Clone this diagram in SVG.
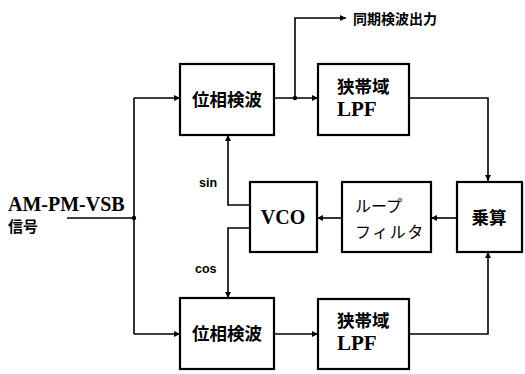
<svg xmlns="http://www.w3.org/2000/svg" width="525" height="374" viewBox="0 0 525 374">
<style>
.box{fill:#fff;stroke:#000;stroke-width:2.2}
.ln{fill:none;stroke:#000;stroke-width:1.6}
.jp{font-family:"Noto Sans CJK JP","Noto Sans CJK SC",sans-serif;font-weight:bold;fill:#000}
.jpn{font-family:"Noto Sans CJK JP","Noto Sans CJK SC",sans-serif;font-weight:normal;fill:#000}
.lat{font-family:"Liberation Serif","Times New Roman",serif;font-weight:bold;fill:#000}
.sm{font-family:"Liberation Sans",Arial,sans-serif;font-weight:bold;fill:#000}
</style>
<defs>
<marker id="ar" viewBox="0 0 10 10" refX="10" refY="5" markerWidth="7" markerHeight="6" orient="auto" markerUnits="userSpaceOnUse">
<path d="M0,0L10,5L0,10z" fill="#000"/>
</marker>
</defs>
<g id="connectors">
<path class="ln" d="M67,218H134"/>
<path class="ln" d="M134,98V334"/>
<path class="ln" d="M134,98H180" marker-end="url(#ar)"/>
<path class="ln" d="M134,334H180" marker-end="url(#ar)"/>
<path class="ln" d="M274,98H318" marker-end="url(#ar)"/>
<path class="ln" d="M295,98V18H346" marker-end="url(#ar)"/>
<path class="ln" d="M409,98H488V181" marker-end="url(#ar)"/>
<path class="ln" d="M274,334H318" marker-end="url(#ar)"/>
<path class="ln" d="M409,334H488V252" marker-end="url(#ar)"/>
<path class="ln" d="M457,218H431" marker-end="url(#ar)"/>
<path class="ln" d="M342,218H317" marker-end="url(#ar)"/>
<path class="ln" d="M250,205H228V135" marker-end="url(#ar)"/>
<path class="ln" d="M250,228H228V298" marker-end="url(#ar)"/>
<circle cx="134" cy="218" r="2.2" fill="#000"/>
<circle cx="295" cy="98" r="2.2" fill="#000"/>
</g>
<g id="pd_top">
<rect class="box" x="180" y="64" width="94" height="71"/>
<text class="jp" x="227" y="106" font-size="17.5" text-anchor="middle">位相検波</text>
</g>
<g id="lpf_top">
<rect class="box" x="318" y="64" width="91" height="71"/>
<text class="jp" x="337" y="93" font-size="17.5">狭帯域</text>
<text class="lat" x="337" y="116" font-size="21">LPF</text>
</g>
<g id="out_label">
<text class="jp" x="353" y="24" font-size="14">同期検波出力</text>
</g>
<g id="input">
<text class="lat" x="8" y="211" font-size="20">AM-PM-VSB</text>
<text class="jp" x="8" y="232" font-size="15">信号</text>
</g>
<g id="vco">
<rect class="box" x="250" y="182" width="67" height="70"/>
<text class="lat" x="283" y="224" font-size="20" text-anchor="middle">VCO</text>
</g>
<g id="loop_filter">
<rect class="box" x="342" y="182" width="89" height="70"/>
<text class="jpn" x="355" y="212" font-size="16">ループ</text>
<text class="jpn" x="355" y="238" font-size="16" letter-spacing="1.5">フィルタ</text>
</g>
<g id="multiplier">
<rect class="box" x="457" y="182" width="65" height="70"/>
<text class="jp" x="489" y="224" font-size="17.5" text-anchor="middle">乗算</text>
</g>
<g id="pd_bottom">
<rect class="box" x="180" y="298" width="94" height="71"/>
<text class="jp" x="227" y="340" font-size="17.5" text-anchor="middle">位相検波</text>
</g>
<g id="lpf_bottom">
<rect class="box" x="318" y="299" width="91" height="70"/>
<text class="jp" x="337" y="327" font-size="17.5">狭帯域</text>
<text class="lat" x="337" y="350" font-size="21">LPF</text>
</g>
<g id="labels">
<text class="sm" x="199" y="187" font-size="12.5">sin</text>
<text class="sm" x="195" y="273" font-size="12.5">cos</text>
</g>
</svg>
